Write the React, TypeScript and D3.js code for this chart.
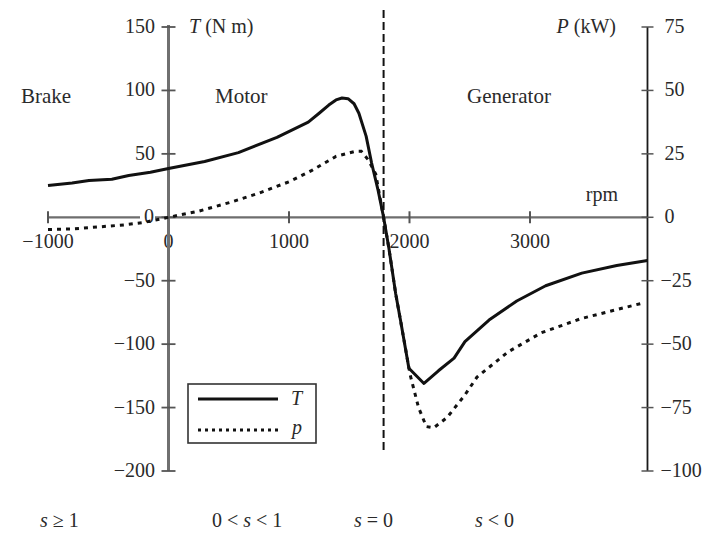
import React from "react"
import * as d3 from "d3"

// torque curve, T (N m) vs speed (rpm)
const T_RPM = [
  -1000, -800, -660, -470, -330, -150, 0, 300, 580, 900, 1160, 1250, 1330, 1390, 1440, 1490,
  1540, 1580, 1640, 1685, 1740, 1785, 1830, 1885, 1925, 1995, 2120, 2240, 2370, 2460, 2660,
  2890, 3130, 3430, 3720, 3975,
]
const T_VAL = [
  25, 27, 29, 30, 33, 35.5, 38.5, 44, 51, 63, 75, 82, 88.5, 92.5, 94, 93.5,
  89.5, 82, 64, 43, 21, 0, -25, -60, -81, -119, -131, -121, -111, -98, -81,
  -66, -54, -44, -38, -34,
]

// power curve, P (kW) vs speed (rpm)
const P_RPM = [
  -1000, -800, -580, -370, -200, 0, 250, 520, 750, 1000, 1190, 1390, 1550, 1600, 1660, 1720,
  1785, 1830, 1885, 1925, 2005, 2075, 2140, 2200, 2310, 2460, 2560, 2820, 3095, 3420, 3700, 3920,
]
const P_VAL = [
  -4.8, -4.6, -3.8, -3, -2, 0, 2.4, 6, 9.5, 14, 18.5, 24, 26, 26, 22.5, 17,
  0, -12.5, -30, -40.5, -62, -75, -82.5, -83, -79, -70, -63, -53, -45.5, -40, -36.6, -34,
]

const X_TICKS = [-1000, 0, 1000, 2000, 3000]
const T_TICKS = [150, 100, 50, 0, -50, -100, -150, -200]
const P_TICKS = [75, 50, 25, 0, -25, -50, -75, -100]
const SYNC_RPM = 1785
const RIGHT_AXIS_RPM = 3975

const FONT = "'Liberation Serif', 'DejaVu Serif', serif"
const INK = "#2a2a2a"
const FS = 20

const minus = (t: number) => (t < 0 ? `\u2212${Math.abs(t)}` : `${t}`)

export default function App() {
  const x = d3.scaleLinear().domain([-1000, 3000]).range([48, 530])
  const yT = d3.scaleLinear().domain([-200, 150]).range([471, 27])
  const yP = d3.scaleLinear().domain([-100, 75]).range([471, 27])

  const tLine = d3
    .line<number>()
    .x((_, i) => x(T_RPM[i]))
    .y((d) => yT(d))
  const pLine = d3
    .line<number>()
    .x((_, i) => x(P_RPM[i]))
    .y((d) => yP(d))

  const x0 = x(0)
  const xR = x(RIGHT_AXIS_RPM)
  const y0 = yT(0)

  return (
    <svg
      width={711}
      height={534}
      style={{ position: "absolute", left: 0, top: 0, background: "#fff" }}
      fontFamily={FONT}
    >
      {/* x axis */}
      <line x1={x(-1000)} x2={xR} y1={y0} y2={y0} stroke="#6e6e6e" strokeWidth={2.2} />
      {X_TICKS.map((t) => (
        <g key={t}>
          <line x1={x(t)} x2={x(t)} y1={y0 - 6} y2={y0 + 6} stroke="#555" strokeWidth={2} />
          <text x={x(t)} y={y0 + 31} textAnchor="middle" fontSize={FS} fill={INK}>
            {minus(t)}
          </text>
        </g>
      ))}

      {/* left torque axis */}
      <line x1={x0} x2={x0} y1={yT(150) - 2} y2={yT(-200)} stroke="#707070" strokeWidth={3} />
      {T_TICKS.map((t) => (
        <g key={t}>
          <line x1={x0 - 7} x2={x0 + 7} y1={yT(t)} y2={yT(t)} stroke="#555" strokeWidth={1.8} />
          {t === 0 ? (
            <>
              <rect x={140} y={yT(t) - 8} width={15} height={16} fill="#fff" />
              <text x={154} y={yT(t) + 6} textAnchor="end" fontSize={FS} fill={INK}>0</text>
            </>
          ) : (
            <text x={155} y={yT(t) + 6} textAnchor="end" fontSize={FS} fill={INK}>
              {minus(t)}
            </text>
          )}
        </g>
      ))}
      <text x={189} y={yT(150) + 6} fontSize={FS} fill={INK}>
        <tspan fontStyle="italic">T</tspan> (N m)
      </text>

      {/* right power axis */}
      <line x1={xR} x2={xR} y1={yP(75)} y2={yP(-100)} stroke="#1a1a1a" strokeWidth={1.8} />
      {P_TICKS.map((t) => (
        <g key={t}>
          <line x1={xR - 6} x2={xR + 6} y1={yP(t)} y2={yP(t)} stroke="#555" strokeWidth={1.5} />
          <text x={xR + (t < 0 ? 13 : 17)} y={yP(t) + 6} fontSize={FS} fill={INK}>
            {minus(t)}
          </text>
        </g>
      ))}
      <text x={616} y={yP(75) + 6} textAnchor="end" fontSize={FS} fill={INK}>
        <tspan fontStyle="italic">P</tspan> (kW)
      </text>
      <text x={618} y={201} textAnchor="end" fontSize={FS} fill={INK}>rpm</text>

      {/* synchronous speed */}
      <line
        x1={x(SYNC_RPM)}
        x2={x(SYNC_RPM)}
        y1={10}
        y2={454}
        stroke="#111"
        strokeWidth={2}
        strokeDasharray="8 4"
      />

      {/* region labels */}
      <text x={21} y={103} fontSize={21} fill={INK}>Brake</text>
      <text x={215} y={103} fontSize={21} fill={INK}>Motor</text>
      <text x={467} y={103} fontSize={21} fill={INK}>Generator</text>

      {/* curves */}
      <path d={tLine(T_VAL) ?? ""} fill="none" stroke="#111" strokeWidth={3} strokeLinejoin="round" />
      <path
        d={pLine(P_VAL) ?? ""}
        fill="none"
        stroke="#111"
        strokeWidth={3}
        strokeDasharray="4 5"
      />

      {/* legend */}
      <rect x={188} y={384} width={128} height={59} fill="#fff" stroke="#333" strokeWidth={1.6} />
      <line x1={198} x2={278} y1={399} y2={399} stroke="#111" strokeWidth={3} />
      <text x={291} y={405} fontSize={FS} fontStyle="italic" fill={INK}>T</text>
      <line x1={198} x2={278} y1={430} y2={430} stroke="#111" strokeWidth={3} strokeDasharray="3 4" />
      <text x={292} y={434} fontSize={FS} fontStyle="italic" fill={INK}>p</text>

      {/* slip labels */}
      <text x={40} y={527} fontSize={FS} fill={INK}>
        <tspan fontStyle="italic">s</tspan> ≥ 1
      </text>
      <text x={212} y={527} fontSize={FS} fill={INK}>
        0 &lt; <tspan fontStyle="italic">s</tspan> &lt; 1
      </text>
      <text x={354} y={527} fontSize={FS} fill={INK}>
        <tspan fontStyle="italic">s</tspan> = 0
      </text>
      <text x={475} y={527} fontSize={FS} fill={INK}>
        <tspan fontStyle="italic">s</tspan> &lt; 0
      </text>
    </svg>
  )
}
